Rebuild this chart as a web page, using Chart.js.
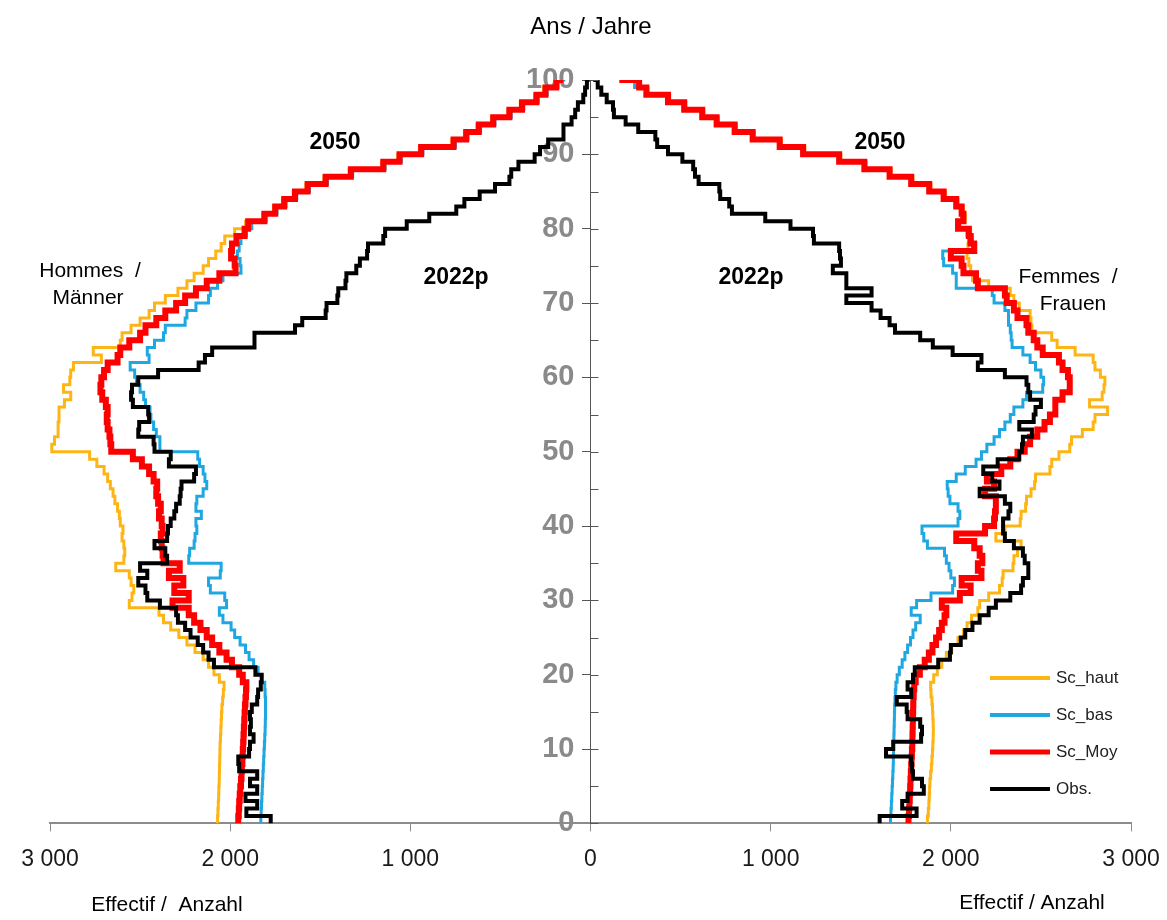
<!DOCTYPE html>
<html lang="fr">
  <head>
    <meta charset="UTF-8" />
    <title>Pyramide des âges</title>
    <script src="https://cdn.jsdelivr.net/npm/chart.js"></script>
    <style>
      body {
        margin: 0;
        background: #ffffff;
      }
      #wrap {
        width: 1167px;
        height: 920px;
      }
    </style>
  </head>

  <body>
    <div id="wrap">
      <canvas id="chart"></canvas>
    </div>
  </body>

  <script>
    // ages 0..100 (categories)
    const ages = Array.from({ length: 101 }, (_, i) => i);
    const xTicks = [-3000, -2000, -1000, 0, 1000, 2000, 3000];

    // Hommes / Männer
    const menHaut = [
      2070, 2068, 2066, 2064, 2063, 2061, 2060, 2059, 2058, 2057,
      2056, 2054, 2052, 2050, 2048, 2046, 2042, 2038, 2034, 2060,
      2090, 2120, 2150, 2195, 2240, 2285, 2330, 2370, 2395, 2560,
      2545, 2535, 2550, 2560, 2635, 2590, 2585, 2590, 2600, 2595,
      2610, 2615, 2625, 2640, 2650, 2665, 2680, 2700, 2740, 2780,
      2990, 2975, 2955, 2955, 2950, 2950, 2920, 2885, 2925, 2890,
      2885, 2870, 2715, 2760, 2610, 2600, 2550, 2500, 2450, 2420,
      2360, 2290, 2240, 2200, 2150, 2120, 2080, 2050, 2030, 1975,
      1915, 1820, 1760, 1710, 1650, 1580, 1480, 1340, 1160, 1070,
      950, 770, 700, 630, 550, 460, 390, 310, 260, 200,
      160
    ];
    const menBas = [
      1830, 1828, 1826, 1824, 1822, 1820, 1818, 1816, 1814, 1812,
      1810, 1808, 1806, 1805, 1804, 1804, 1804, 1806, 1808, 1825,
      1845, 1870, 1895, 1915, 1945, 1975, 1995, 2040, 2060, 2020,
      2030, 2110, 2120, 2055, 2050, 2230, 2225, 2200, 2195, 2185,
      2190, 2160, 2190, 2185, 2150, 2130, 2140, 2150, 2170, 2180,
      2390, 2390, 2410, 2425, 2440, 2445, 2470, 2480, 2500, 2520,
      2530, 2555, 2450, 2460, 2420, 2370, 2360, 2250, 2240, 2190,
      2120, 2110, 2070, 2040, 1940, 1945, 1960, 1950, 1940, 1910,
      1880, 1800, 1740, 1690, 1630, 1560, 1460, 1320, 1140, 1050,
      930, 750, 680, 610, 530, 440, 370, 290, 240, 180,
      140
    ];
    const menMoy = [
      1955, 1952, 1950, 1947, 1944, 1940, 1937, 1935, 1932, 1930,
      1928, 1926, 1924, 1922, 1920, 1918, 1915, 1912, 1910, 1930,
      1950, 1990, 2020, 2060, 2100, 2130, 2165, 2200, 2230, 2320,
      2230, 2310, 2260, 2340, 2280, 2370, 2375, 2380, 2385, 2375,
      2380, 2395, 2385, 2400, 2410, 2405, 2425, 2450, 2490, 2540,
      2660, 2665, 2670, 2680, 2685, 2680, 2690, 2710, 2720, 2715,
      2700, 2680, 2625, 2610, 2560, 2500, 2470, 2410, 2360, 2300,
      2250, 2190, 2130, 2060, 1970, 1975, 1995, 1990, 1965, 1920,
      1900, 1810, 1750, 1700, 1640, 1570, 1470, 1330, 1150, 1060,
      940, 760, 690, 620, 540, 450, 380, 300, 250, 190,
      150
    ];
    const menObs = [
      1775, 1910, 1850, 1915, 1850, 1890, 1850, 1950, 1955, 1895,
      1890, 1870, 1890, 1885, 1890, 1880, 1850, 1845, 1830, 1825,
      1860, 2090, 2120, 2150, 2180, 2220, 2250, 2290, 2300, 2390,
      2460, 2470, 2510, 2460, 2500, 2350, 2360, 2420, 2350, 2345,
      2330, 2310, 2300, 2280, 2275, 2270, 2200, 2190, 2340, 2330,
      2420, 2425, 2510, 2505, 2450, 2455, 2540, 2550, 2545, 2510,
      2400, 2175, 2140, 2100, 1865, 1865, 1640, 1600, 1470, 1465,
      1405, 1400, 1360, 1355, 1300, 1280, 1240, 1235, 1150, 1140,
      1020, 895, 745, 700, 615, 530, 450, 440, 400, 310,
      280, 235, 150, 150, 105, 85, 70, 40, 30, 20,
      5
    ];

    // Femmes / Frauen
    const womenHaut = [
      1870, 1875, 1878, 1880, 1882, 1884, 1888, 1892, 1895, 1898,
      1900, 1902, 1903, 1902, 1900, 1898, 1895, 1890, 1888, 1905,
      1925, 1950, 1975, 2005, 2040, 2070, 2090, 2115, 2150, 2160,
      2210, 2270, 2285, 2290, 2345, 2350, 2370, 2390, 2250, 2300,
      2385, 2390, 2415, 2420, 2445, 2465, 2470, 2550, 2560, 2600,
      2660, 2670, 2730, 2790, 2800, 2870, 2770, 2840, 2850, 2855,
      2830, 2800, 2790, 2690, 2590, 2560, 2450, 2445, 2440, 2380,
      2350, 2330, 2210, 2120, 2110, 2100, 2090, 2095, 2120, 2110,
      2050, 2080, 2070, 2040, 1970, 1890, 1790, 1670, 1530, 1390,
      1190, 1060, 910, 810, 710, 630, 530, 440, 320, 260,
      180
    ];
    const womenBas = [
      1665, 1668, 1670, 1672, 1674, 1676, 1678, 1680, 1681, 1682,
      1683, 1684, 1685, 1686, 1687, 1688, 1690, 1692, 1695, 1702,
      1714, 1730, 1745, 1760, 1776, 1790, 1805, 1830, 1780, 1810,
      1890, 2010, 2020, 2000, 1990, 1975, 1965, 1870, 1850, 1840,
      2040, 2050, 2040, 1995, 1985, 1980, 2030, 2080, 2140, 2170,
      2200, 2240, 2270, 2300, 2330, 2350, 2400, 2420, 2510, 2515,
      2500, 2470, 2440, 2400, 2340, 2335, 2330, 2320, 2320, 2300,
      2240, 2230, 2030, 2030, 2010, 1960, 1955, 2120, 2100, 2090,
      2035, 2060, 2055, 2025, 1955, 1875, 1775, 1655, 1515, 1375,
      1175, 1045, 895, 795, 695, 615, 515, 425, 305, 245,
      165
    ];
    const womenMoy = [
      1765, 1768, 1770, 1772, 1774, 1776, 1778, 1780, 1782, 1784,
      1786, 1787, 1788, 1789, 1790, 1791, 1792, 1794, 1797, 1805,
      1828, 1855, 1878, 1898, 1918, 1935, 1950, 1965, 1975, 1950,
      2050, 2110, 2060, 2170, 2150, 2175, 2160, 2130, 2030, 2190,
      2240, 2245, 2250, 2250, 2190, 2240, 2200, 2280, 2330, 2370,
      2410, 2440, 2480, 2520, 2550, 2580, 2580, 2620, 2660, 2660,
      2650, 2620, 2600, 2510, 2480, 2460, 2430, 2420, 2370, 2350,
      2310, 2300, 2150, 2140, 2070, 2060, 2000, 2130, 2110, 2100,
      2040, 2070, 2060, 2030, 1960, 1880, 1780, 1660, 1520, 1380,
      1180, 1050, 900, 800, 700, 620, 520, 430, 310, 270,
      160
    ];
    const womenObs = [
      1605, 1810, 1730, 1760, 1850, 1840, 1790, 1785, 1780, 1640,
      1680, 1835, 1840, 1830, 1760, 1755, 1700, 1780, 1760, 1790,
      1800, 1930, 1995, 2000, 2055, 2080, 2120, 2160, 2210, 2250,
      2330, 2390, 2400, 2430, 2430, 2410, 2400, 2350, 2300, 2290,
      2290, 2320, 2330, 2300, 2160, 2270, 2230, 2180, 2260, 2380,
      2395, 2400, 2450, 2380, 2460, 2470, 2500, 2440, 2430, 2420,
      2300, 2150, 2170, 2010, 1900, 1830, 1690, 1660, 1610, 1560,
      1420, 1560, 1420, 1420, 1345, 1390, 1385, 1380, 1240, 1235,
      1110, 970, 785, 770, 720, 715, 600, 580, 570, 510,
      430, 370, 360, 265, 195, 130, 125, 90, 60, 40,
      15
    ];

    const series = [
      { label: "Sc_haut", color: "#FDB515", width: 3, order: 3, men: menHaut, women: womenHaut },
      { label: "Sc_bas", color: "#1EA7E1", width: 3, order: 2, men: menBas, women: womenBas },
      { label: "Sc_Moy", color: "#FF0000", width: 6, order: 1, men: menMoy, women: womenMoy },
      { label: "Obs.", color: "#000000", width: 4, order: 0, men: menObs, women: womenObs },
    ];

    // men on the left (negative), women on the right
    const datasets = [];
    series.forEach((s) => {
      datasets.push({
        label: s.label + " H",
        data: ages.map((a, i) => ({ x: -s.men[i], y: a })),
        borderColor: s.color,
        borderWidth: s.width,
        order: s.order,
      });
      datasets.push({
        label: s.label,
        data: ages.map((a, i) => ({ x: s.women[i], y: a })),
        borderColor: s.color,
        borderWidth: s.width,
        order: s.order,
      });
    });
    datasets.forEach((d) => {
      d.showLine = true;
      d.stepped = "after";
      d.pointRadius = 0;
      d.fill = false;
    });

    function fmt(v) {
      const n = Math.abs(v);
      if (n < 1000) return String(n);
      return Math.floor(n / 1000) + " " + String(n % 1000).padStart(3, "0");
    }

    const textFont = "'Liberation Sans', Arial, sans-serif";

    const decorations = {
      id: "decorations",
      afterDraw(chart) {
        const { ctx } = chart;
        const x = chart.scales.x;
        const y = chart.scales.y;
        const x0 = x.getPixelForValue(0);
        ctx.save();

        // right half of the crossing ticks on the age axis
        ctx.strokeStyle = "#555555";
        ctx.lineWidth = 1;
        for (let a = 0; a <= 100; a += 5) {
          const py = Math.round(y.getPixelForValue(a)) + 0.5;
          ctx.beginPath();
          ctx.moveTo(x0, py);
          ctx.lineTo(x0 + 8, py);
          ctx.stroke();
        }

        ctx.fillStyle = "#000000";
        ctx.textAlign = "center";
        ctx.textBaseline = "middle";

        ctx.font = "24px " + textFont;
        ctx.fillText("Ans / Jahre", 591, 27);

        ctx.font = "bold 23px " + textFont;
        ctx.fillText("2050", 335, 143);
        ctx.fillText("2050", 880, 143);
        ctx.fillText("2022p", 456, 278);
        ctx.fillText("2022p", 751, 278);

        ctx.font = "21px " + textFont;
        ctx.fillText("Hommes  /", 90, 271);
        ctx.fillText("Männer", 88, 298);
        ctx.fillText("Femmes  /", 1068, 277);
        ctx.fillText("Frauen", 1073, 304);

        ctx.fillText("Effectif /  Anzahl", 167, 905);
        ctx.fillText("Effectif / Anzahl", 1032, 903);

        // legend
        ctx.font = "17px " + textFont;
        ctx.textAlign = "left";
        series.forEach((s, i) => {
          const ly = 678 + i * 37;
          ctx.strokeStyle = s.color;
          ctx.lineWidth = s.width > 4 ? 5 : 4;
          ctx.beginPath();
          ctx.moveTo(990, ly);
          ctx.lineTo(1050, ly);
          ctx.stroke();
          ctx.fillStyle = "#222222";
          ctx.fillText(s.label, 1056, ly);
        });

        ctx.restore();
      },
    };

    const config = {
      type: "scatter",
      data: { datasets: datasets },
      options: {
        responsive: true,
        maintainAspectRatio: false,
        animation: false,
        layout: {
          padding: { left: 50, right: 36, top: 80, bottom: 33 },
        },
        plugins: {
          legend: { display: false },
          tooltip: { enabled: false },
        },
        scales: {
          x: {
            type: "linear",
            min: -3000,
            max: 3000,
            afterBuildTicks: (scale) => {
              scale.ticks = xTicks.map((v) => ({ value: v }));
            },
            afterFit: (scale) => {
              scale.paddingLeft = 0;
              scale.paddingRight = 0;
            },
            grid: {
              drawOnChartArea: false,
              drawTicks: true,
              tickLength: 8,
              color: "#8c8c8c",
              lineWidth: 1,
            },
            border: { display: true, color: "#8c8c8c", width: 2 },
            ticks: {
              padding: 14,
              maxRotation: 0,
              color: "#1a1a1a",
              font: { family: "'Liberation Sans', Arial", size: 23 },
              callback: (v) => fmt(v),
            },
          },
          y: {
            type: "linear",
            position: { x: 0 },
            min: 0,
            max: 100,
            grid: {
              drawOnChartArea: false,
              drawTicks: true,
              tickLength: 8,
              color: "#555555",
            },
            border: { display: true, color: "#555555", width: 1 },
            ticks: {
              stepSize: 5,
              color: "#8a8a8a",
              font: { family: "'Liberation Sans', Arial", size: 29, weight: "bold" },
              // trailing spaces keep the labels clear of the centred axis
              callback: (v) => (v % 10 === 0 ? v + "  " : ""),
            },
          },
        },
      },
      plugins: [decorations],
    };

    const chart = new Chart(document.getElementById("chart"), config);
  </script>
</html>
